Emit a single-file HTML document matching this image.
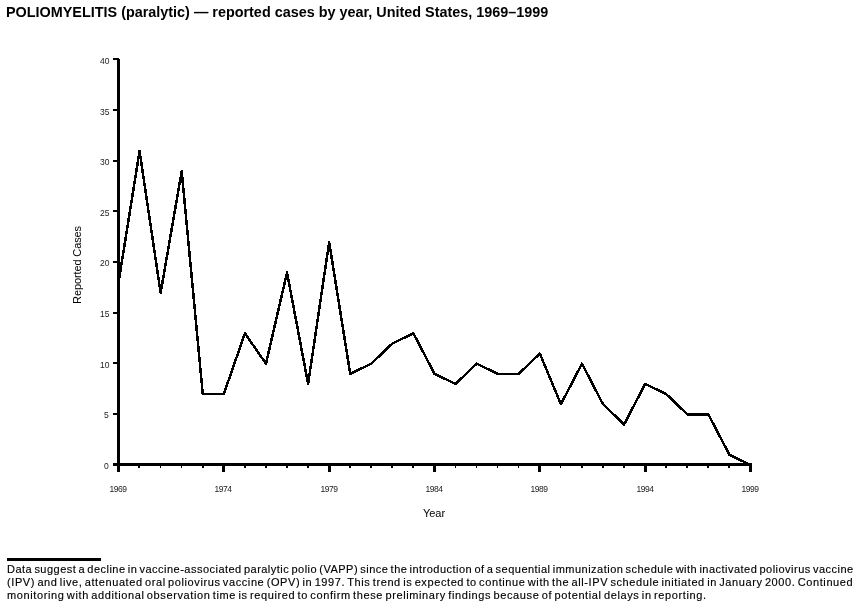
<!DOCTYPE html>
<html><head><meta charset="utf-8">
<style>
html,body{margin:0;padding:0;background:#fff;}
body{width:858px;height:609px;position:relative;overflow:hidden;font-family:"Liberation Sans",sans-serif;color:#000;}
.t{position:absolute;white-space:nowrap;will-change:transform;}
.title{left:6.2px;top:2.8px;font-weight:bold;font-size:14.4px;line-height:18px;}
svg{position:absolute;left:0;top:0;}
.yl{right:749px;font-size:8.5px;line-height:20px;color:#222;}
.xl{top:479px;width:40px;text-align:center;font-size:8.5px;line-height:20px;color:#222;letter-spacing:-0.5px;}
.ylab{position:absolute;left:77px;top:264.7px;width:0;height:0;}
.ylab span{position:absolute;left:0;top:0;transform:translate(-50%,-50%) rotate(-90deg);font-size:11px;line-height:11px;white-space:nowrap;letter-spacing:-0.12px;}
.xlab{left:414px;width:40px;top:503px;text-align:center;font-size:11px;line-height:20px;}
.rule{position:absolute;left:7px;top:558px;width:94px;height:3px;background:#000;}
.f{left:7px;font-size:11px;line-height:20px;color:#000;-webkit-text-stroke:0.15px #000;}
</style></head><body>
<div class="t title">POLIOMYELITIS (paralytic) — reported cases by year, United States, 1969–1999</div>
<svg width="858" height="609" viewBox="0 0 858 609" shape-rendering="crispEdges">
<rect x="117" y="58" width="2" height="414"/>
<rect x="119" y="59" width="1" height="413"/>
<rect x="113" y="463" width="639" height="3"/>
<rect x="113" y="413" width="4" height="2"/>
<rect x="113" y="362" width="4" height="2"/>
<rect x="113" y="312" width="4" height="2"/>
<rect x="113" y="261" width="4" height="2"/>
<rect x="113" y="210" width="4" height="2"/>
<rect x="113" y="160" width="4" height="2"/>
<rect x="113" y="109" width="4" height="2"/>
<rect x="113" y="58" width="4" height="2"/>
<rect x="117" y="463" width="3" height="9"/>
<rect x="138" y="463" width="2" height="5"/>
<rect x="160" y="463" width="1" height="5"/>
<rect x="181" y="463" width="1" height="5"/>
<rect x="202" y="463" width="2" height="5"/>
<rect x="222" y="463" width="3" height="9"/>
<rect x="244" y="463" width="2" height="5"/>
<rect x="265" y="463" width="2" height="5"/>
<rect x="286" y="463" width="2" height="5"/>
<rect x="307" y="463" width="2" height="5"/>
<rect x="328" y="463" width="3" height="9"/>
<rect x="349" y="463" width="2" height="5"/>
<rect x="370" y="463" width="2" height="5"/>
<rect x="391" y="463" width="2" height="5"/>
<rect x="412" y="463" width="2" height="5"/>
<rect x="433" y="463" width="3" height="9"/>
<rect x="455" y="463" width="1" height="5"/>
<rect x="476" y="463" width="1" height="5"/>
<rect x="497" y="463" width="1" height="5"/>
<rect x="518" y="463" width="1" height="5"/>
<rect x="538" y="463" width="3" height="9"/>
<rect x="560" y="463" width="1" height="5"/>
<rect x="581" y="463" width="2" height="5"/>
<rect x="602" y="463" width="2" height="5"/>
<rect x="623" y="463" width="2" height="5"/>
<rect x="644" y="463" width="3" height="9"/>
<rect x="665" y="463" width="2" height="5"/>
<rect x="686" y="463" width="2" height="5"/>
<rect x="707" y="463" width="2" height="5"/>
<rect x="728" y="463" width="2" height="5"/>
<rect x="749" y="463" width="3" height="9"/>
<polyline points="118.50,282.70 139.57,151.07 160.63,292.82 181.70,171.32 202.77,394.07 223.83,394.07 244.90,333.32 265.97,363.70 287.03,272.57 308.10,383.95 329.17,242.20 350.23,373.82 371.30,363.70 392.37,343.45 413.43,333.32 434.50,373.82 455.57,383.95 476.63,363.70 497.70,373.82 518.77,373.82 539.83,353.57 560.90,404.20 581.97,363.70 603.03,404.20 624.10,424.45 645.17,383.95 666.23,394.07 687.30,414.32 708.37,414.32 729.43,454.82 750.50,464.95" fill="none" stroke="#000" stroke-width="2.5" stroke-linejoin="round" shape-rendering="crispEdges"/>
</svg>
<div class="t yl" style="top:455.9px">0</div>
<div class="t yl" style="top:405.3px">5</div>
<div class="t yl" style="top:354.6px">10</div>
<div class="t yl" style="top:304.0px">15</div>
<div class="t yl" style="top:253.4px">20</div>
<div class="t yl" style="top:202.8px">25</div>
<div class="t yl" style="top:152.2px">30</div>
<div class="t yl" style="top:101.5px">35</div>
<div class="t yl" style="top:50.9px">40</div>
<div class="t xl" style="left:98.0px">1969</div>
<div class="t xl" style="left:203.3px">1974</div>
<div class="t xl" style="left:308.7px">1979</div>
<div class="t xl" style="left:414.0px">1984</div>
<div class="t xl" style="left:519.3px">1989</div>
<div class="t xl" style="left:624.7px">1994</div>
<div class="t xl" style="left:730.0px">1999</div>
<div class="ylab"><span>Reported Cases</span></div>
<div class="t xlab">Year</div>
<div class="rule"></div>
<div class="t f" style="top:559px;letter-spacing:0.479px;word-spacing:-1.3px">Data suggest a decline in vaccine-associated paralytic polio (VAPP) since the introduction of a sequential immunization schedule with inactivated poliovirus vaccine</div>
<div class="t f" style="top:572px;letter-spacing:0.594px;word-spacing:-1.3px">(IPV) and live, attenuated oral poliovirus vaccine (OPV) in 1997. This trend is expected to continue with the all-IPV schedule initiated in January 2000. Continued</div>
<div class="t f" style="top:585px;letter-spacing:0.613px;word-spacing:-1.3px">monitoring with additional observation time is required to confirm these preliminary findings because of potential delays in reporting.</div>
</body></html>
